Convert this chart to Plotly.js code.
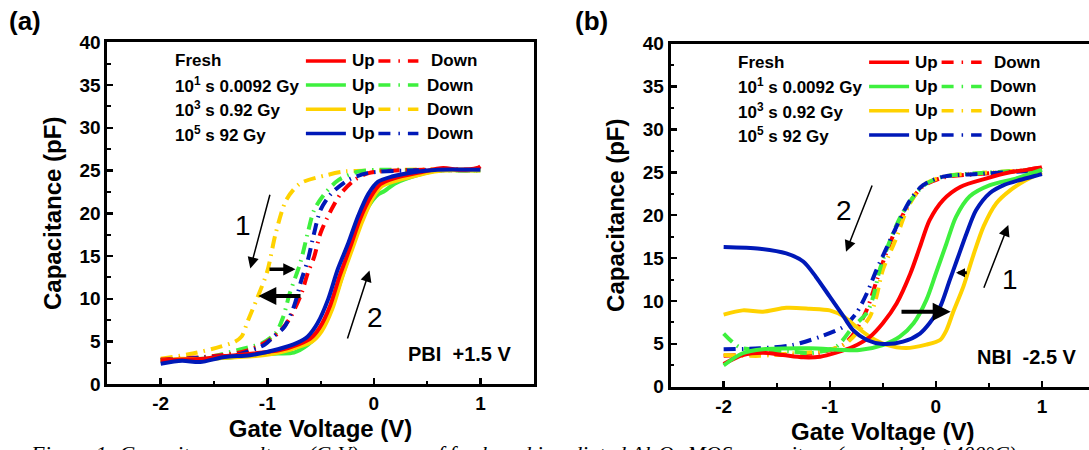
<!DOCTYPE html>
<html><head><meta charset="utf-8">
<script src="https://cdn.plot.ly/plotly-3.0.1.min.js"></script>
<style>html,body{margin:0;padding:0;overflow:hidden;background:#fff}#chart{width:1100px;height:450px}</style>
</head><body><div id="chart"></div>
<script>
// ---------- DATA ----------
// Panel (a): PBI +1.5 V
const aFreshUpX = [-2, -1.8, -1.6, -1.4, -1.13, -0.88, -0.7, -0.6, -0.51, -0.41, -0.32, -0.22, -0.13, -0.03, 0.06, 0.19, 0.44, 0.65, 0.8, 0.97, 1.0];
const aFreshUpY = [2.8, 2.9, 3.0, 3.3, 3.6, 4.0, 4.7, 5.3, 6.6, 9.2, 12.7, 16.1, 19.3, 21.9, 23.4, 24.1, 24.8, 25.3, 25.1, 25.3, 25.5];
const a10UpX = [-2, -1.8, -1.6, -1.4, -1.15, -0.9, -0.75, -0.62, -0.53, -0.43, -0.34, -0.24, -0.15, -0.05, 0.04, 0.1, 0.2, 0.42, 0.6, 1.0];
const a10UpY = [2.8, 2.9, 3.0, 3.1, 3.4, 3.6, 3.7, 4.6, 5.7, 7.8, 11.0, 14.8, 18.0, 20.8, 22.2, 22.6, 23.5, 24.5, 25.0, 25.0];
const a1kUpX = [-2, -1.8, -1.6, -1.4, -1.11, -0.86, -0.68, -0.58, -0.49, -0.39, -0.3, -0.2, -0.11, -0.01, 0.08, 0.21, 0.46, 0.64, 1.0];
const a1kUpY = [2.7, 3.0, 2.9, 3.1, 3.3, 3.8, 4.5, 5.0, 6.2, 8.8, 12.4, 15.9, 19.0, 21.8, 23.2, 23.8, 24.6, 25.0, 25.0];
const a100kUpX = [-2, -1.8, -1.63, -1.4, -1.16, -0.9, -0.72, -0.62, -0.53, -0.43, -0.34, -0.24, -0.15, -0.05, 0.04, 0.17, 0.42, 0.6, 1.0];
const a100kUpY = [2.4, 2.75, 2.6, 3.2, 3.4, 4.1, 4.85, 5.6, 7.1, 9.9, 13.4, 16.5, 19.6, 22.3, 23.7, 24.3, 24.9, 25.1, 25.1];

const aFreshDownX = [-2, -1.5, -1.2, -1.0, -0.87, -0.78, -0.68, -0.62, -0.56, -0.5, -0.4, -0.31, -0.18, -0.05, 0.2, 0.5, 1.0];
const aFreshDownY = [2.9, 3.3, 3.9, 5.0, 6.35, 7.9, 10.6, 13.0, 14.9, 17.7, 20.4, 22.3, 23.9, 24.7, 25.0, 25.1, 25.1];
const a10DownX = [-2, -1.5, -1.28, -1.05, -0.92, -0.85, -0.79, -0.69, -0.62, -0.56, -0.46, -0.33, -0.14, 0.1, 0.5, 1.0];
const a10DownY = [2.8, 3.3, 4.0, 4.8, 6.0, 7.9, 10.6, 14.2, 17.7, 20.4, 22.3, 23.9, 24.9, 25.1, 25.0, 25.0];
const a1kDownX = [-2, -1.7, -1.44, -1.3, -1.24, -1.18, -1.1, -1.0, -0.92, -0.82, -0.69, -0.43, -0.27, 0, 0.3, 1.0];
const a1kDownY = [3.0, 3.6, 4.4, 5.0, 5.6, 7.5, 9.9, 13.2, 17.7, 21.6, 23.5, 24.5, 24.9, 25.0, 25.1, 25.1];
const a100kDownX = [-2, -1.5, -1.3, -1.03, -0.94, -0.84, -0.75, -0.68, -0.62, -0.56, -0.5, -0.4, -0.24, -0.06, 0.3, 1.0];
const a100kDownY = [2.8, 3.2, 3.4, 4.6, 5.6, 6.7, 9.1, 12.2, 14.5, 17.7, 20.4, 22.3, 23.9, 24.7, 25.0, 25.0];

// Panel (b): NBI -2.5 V
const bFreshUpX = [-2, -1.82, -1.63, -1.44, -1.25, -1.09, -0.94, -0.78, -0.62, -0.5, -0.37, -0.24, -0.15, -0.06, 0.07, 0.23, 0.48, 0.7, 0.97, 1.0];
const bFreshUpY = [2.65, 3.7, 3.97, 3.7, 3.43, 3.5, 3.97, 4.66, 5.83, 7.4, 9.7, 13.2, 16.3, 19.4, 21.8, 23.3, 24.3, 25.0, 25.5, 25.6];
const b10UpX = [-2, -1.82, -1.63, -1.19, -0.72, -0.5, -0.34, -0.21, -0.09, 0.0, 0.1, 0.19, 0.32, 0.51, 0.76, 1.0];
const b10UpY = [2.5, 3.9, 4.36, 4.48, 4.28, 4.86, 5.83, 7.4, 10.1, 13.2, 16.7, 19.8, 22.2, 23.5, 24.3, 25.3];
const b1kUpX = [-2, -1.82, -1.63, -1.41, -1.19, -1.0, -0.87, -0.75, -0.62, -0.47, -0.28, -0.09, 0.04, 0.1, 0.16, 0.26, 0.35, 0.45, 0.57, 0.7, 0.85, 1.0];
const b1kUpY = [8.4, 8.9, 8.75, 9.2, 9.1, 8.9, 8.2, 7.0, 5.8, 4.9, 4.5, 4.9, 5.45, 6.6, 8.6, 11.7, 15.2, 18.7, 21.4, 22.9, 24.1, 25.0];
const b100kUpX = [-2, -1.66, -1.41, -1.25, -1.13, -1.0, -0.87, -0.78, -0.65, -0.5, -0.31, -0.15, -0.06, 0.04, 0.13, 0.2, 0.29, 0.38, 0.51, 0.64, 0.79, 0.97, 1.0];
const b100kUpY = [16.3, 16.1, 15.55, 14.6, 12.8, 10.5, 8.2, 6.6, 5.45, 4.98, 5.25, 6.2, 7.4, 9.3, 12.4, 14.8, 17.9, 20.6, 22.6, 23.5, 24.1, 24.7, 24.8];

const bFreshDownX = [-2, -1.66, -1.35, -1.09, -0.87, -0.75, -0.65, -0.56, -0.47, -0.38, -0.24, -0.12, 0.07, 0.4, 0.8, 1.0];
const bFreshDownY = [3.6, 3.8, 3.7, 4.0, 4.9, 6.6, 9.0, 12.3, 15.5, 18.3, 21.6, 23.4, 24.4, 24.8, 25.2, 25.6];
const b10DownX = [-2, -1.85, -1.66, -1.35, -1.19, -0.94, -0.78, -0.65, -0.59, -0.53, -0.43, -0.33, -0.22, -0.1, 0.07, 0.4, 0.8, 1.0];
const b10DownY = [6.2, 4.6, 4.3, 4.1, 3.9, 4.66, 7.0, 8.6, 10.5, 13.6, 17.1, 19.9, 22.0, 23.6, 24.5, 24.9, 25.2, 25.4];
const b1kDownX = [-2, -1.66, -1.35, -1.09, -0.87, -0.72, -0.62, -0.56, -0.5, -0.38, -0.26, -0.12, 0.07, 0.4, 0.8, 1.0];
const b1kDownY = [3.7, 3.6, 3.9, 4.1, 4.86, 6.6, 8.2, 10.5, 13.6, 17.1, 21.0, 23.5, 24.5, 24.9, 25.2, 25.4];
const b100kDownX = [-2, -1.66, -1.35, -1.09, -0.87, -0.75, -0.65, -0.56, -0.46, -0.37, -0.24, -0.12, 0.07, 0.4, 0.8, 1.0];
const b100kDownY = [4.36, 4.48, 4.86, 5.83, 7.0, 8.56, 10.9, 13.6, 16.3, 18.7, 21.8, 23.5, 24.5, 24.8, 25.1, 25.2];

const seriesLabels = ['Fresh', '10<sup>1</sup> s 0.0092 Gy', '10<sup>3</sup> s 0.92 Gy', '10<sup>5</sup> s 92 Gy'];
const seriesColors = ['#ff0000', '#3ef03e', '#ffd200', '#0019b8'];
const xTickVals = [-2, -1, 0, 1];
const yTickVals = [0, 5, 10, 15, 20, 25, 30, 35, 40];

// ---------- LAYOUT HELPERS ----------
const W = 1100, H = 450;
const FONT = 'Liberation Sans, Arial, Helvetica, sans-serif';
const px = v => v / W;
const py = v => 1 - v / H;
const DASH = '12px,6px,1.5px,6px';
const panels = [
  {left: 107.4, right: 533.7, top: 42.3, bottom: 384.3, xa: 'x', ya: 'y'},
  {left: 670.6, right: 1095.0, top: 43.7, bottom: 386.7, xa: 'x2', ya: 'y2'}
];

const traces = [];
function addTrace(x, y, color, dashed, p) {
  traces.push({x, y, type: 'scatter', mode: 'lines', xaxis: panels[p].xa, yaxis: panels[p].ya,
    line: {color, width: 4, shape: 'spline', smoothing: 0.8, dash: dashed ? DASH : 'solid'},
    showlegend: false, hoverinfo: 'skip'});
}
// panel a: dashed first, then solids (blue on top)
addTrace(a1kDownX, a1kDownY, seriesColors[2], true, 0);
addTrace(a10DownX, a10DownY, seriesColors[1], true, 0);
addTrace(aFreshDownX, aFreshDownY, seriesColors[0], true, 0);
addTrace(a100kDownX, a100kDownY, seriesColors[3], true, 0);
addTrace(a10UpX, a10UpY, seriesColors[1], false, 0);
addTrace(a1kUpX, a1kUpY, seriesColors[2], false, 0);
addTrace(aFreshUpX, aFreshUpY, seriesColors[0], false, 0);
addTrace(a100kUpX, a100kUpY, seriesColors[3], false, 0);
// panel b
addTrace(bFreshDownX, bFreshDownY, seriesColors[0], true, 1);
addTrace(b1kDownX, b1kDownY, seriesColors[2], true, 1);
addTrace(b10DownX, b10DownY, seriesColors[1], true, 1);
addTrace(b100kDownX, b100kDownY, seriesColors[3], true, 1);
addTrace(b1kUpX, b1kUpY, seriesColors[2], false, 1);
addTrace(bFreshUpX, bFreshUpY, seriesColors[0], false, 1);
addTrace(b10UpX, b10UpY, seriesColors[1], false, 1);
addTrace(b100kUpX, b100kUpY, seriesColors[3], false, 1);

function xAxis(p) {
  const P = panels[p];
  return {domain: [px(P.left), px(P.right)], range: [-2.5, 1.5], anchor: P.ya,
    tickmode: 'array', tickvals: xTickVals, ticktext: xTickVals.map(String),
    ticks: 'inside', ticklen: 6, tickwidth: 2.5, tickcolor: '#000',
    minor: {dtick: 0.5, tick0: 0, ticks: 'inside', ticklen: 3.5, tickwidth: 2, tickcolor: '#000', showgrid: false},
    showline: true, linewidth: 3, linecolor: '#000', mirror: true,
    showgrid: false, zeroline: false,
    tickfont: {family: FONT, size: 19, weight: 'bold', color: '#000'},
    title: {text: 'Gate Voltage (V)', font: {family: FONT, size: 24, weight: 'bold', color: '#000'}, standoff: 8}};
}
function yAxis(p) {
  const P = panels[p];
  return {domain: [py(P.bottom), py(P.top)], range: [0, 40], anchor: P.xa,
    tickmode: 'array', tickvals: yTickVals, ticktext: yTickVals.map(String),
    ticks: 'inside', ticklen: 6, tickwidth: 2.5, tickcolor: '#000',
    minor: {dtick: 2.5, tick0: 0, ticks: 'inside', ticklen: 3.5, tickwidth: 2, tickcolor: '#000', showgrid: false},
    showline: true, linewidth: 3, linecolor: '#000', mirror: true,
    showgrid: false, zeroline: false,
    tickfont: {family: FONT, size: 19, weight: 'bold', color: '#000'},
    title: {text: 'Capacitance (pF)', font: {family: FONT, size: 24, weight: 'bold', color: '#000'}, standoff: 12}};
}

const annotations = [];
const shapes = [];
function text(x, y, t, size, opts) {
  annotations.push(Object.assign({xref: 'paper', yref: 'paper', x: px(x), y: py(y), text: t, showarrow: false,
    xanchor: 'left', yanchor: 'middle', font: {family: FONT, size, color: '#000', weight: 'bold'}}, opts || {}));
}
function arrow(tx, ty, hx, hy, w, s) {
  annotations.push({xref: 'paper', yref: 'paper', x: px(hx), y: py(hy), ax: tx - hx, ay: ty - hy,
    axref: 'pixel', ayref: 'pixel', text: '', showarrow: true, arrowhead: 2, arrowsize: s, arrowwidth: w,
    arrowcolor: '#000', standoff: 0, startstandoff: 0});
}

// legends
const rowOff = [18.6, 42.8, 67.0, 91.3];
const downOff = [321.6, 317.6, 317.6, 317.6];
panels.forEach((P, p) => {
  seriesLabels.forEach((lab, i) => {
    const yy = P.top + rowOff[i];
    text(P.left + 65.3, yy, lab, 17);
    shapes.push({type: 'line', xref: 'paper', yref: 'paper', x0: px(P.left + 198.5), x1: px(P.left + 238.5), y0: py(yy), y1: py(yy),
      line: {color: seriesColors[i], width: 3.5}});
    text(P.left + 242.5, yy, 'Up', 17);
    shapes.push({type: 'line', xref: 'paper', yref: 'paper', x0: px(P.left + 271), x1: px(P.left + 311), y0: py(yy), y1: py(yy),
      line: {color: seriesColors[i], width: 3.5, dash: '12px,8px,1.5px,8px'}});
    text(P.left + downOff[i], yy, 'Down', 17);
  });
});

// panel labels & notes
text(25, 21, '(a)', 26, {xanchor: 'center'});
text(591, 21, '(b)', 26, {xanchor: 'center'});
text(513, 354, 'PBI\u00a0\u00a0+1.5 V', 20, {xanchor: 'right'});
text(1079, 356.5, 'NBI\u00a0\u00a0-2.5 V', 20, {xanchor: 'right'});
const numFont = {family: FONT, size: 28, color: '#000', weight: 'normal'};
text(243, 225, '1', 28, {xanchor: 'center', font: numFont});
text(375, 317, '2', 28, {xanchor: 'center', font: numFont});
text(843.5, 210, '2', 28, {xanchor: 'center', font: numFont});
text(1009.5, 279, '1', 28, {xanchor: 'center', font: numFont});

// arrows
arrow(270.3, 193.3, 250.3, 268.5, 1.5, 1.5);
arrow(347, 340, 369.5, 270.5, 1.5, 1.5);
arrow(268, 269.3, 295.5, 269.3, 3.5, 0.7);
arrow(302, 296, 258.3, 296, 4, 0.9);
arrow(872.7, 184, 846, 251.7, 1.5, 1.5);
arrow(983.3, 289.3, 1008.3, 225, 1.5, 1.5);
arrow(900, 311.7, 950.7, 311.7, 4, 0.9);
arrow(968.3, 272.7, 956, 272.7, 3, 0.6);

// caption (cut by the bottom edge)
annotations.push({xref: 'paper', yref: 'paper', x: px(28), y: py(439), xanchor: 'left', yanchor: 'top', showarrow: false,
  text: 'Figure 1: Capacitance-voltage (C-V) curves of fresh and irradiated Al<sub>2</sub>O<sub>3</sub> MOS capacitors (annealed at 400°C)',
  font: {family: 'Liberation Serif, Times New Roman, serif', size: 22, style: 'italic', color: '#000'}});

const layout = {
  width: W, height: H, margin: {l: 0, r: 0, t: 0, b: 0},
  paper_bgcolor: '#fff', plot_bgcolor: 'rgba(0,0,0,0)',
  showlegend: false,
  xaxis: xAxis(0), yaxis: yAxis(0), xaxis2: xAxis(1), yaxis2: yAxis(1),
  annotations, shapes
};
Plotly.newPlot('chart', traces, layout, {displayModeBar: false, staticPlot: true});
</script></body></html>
